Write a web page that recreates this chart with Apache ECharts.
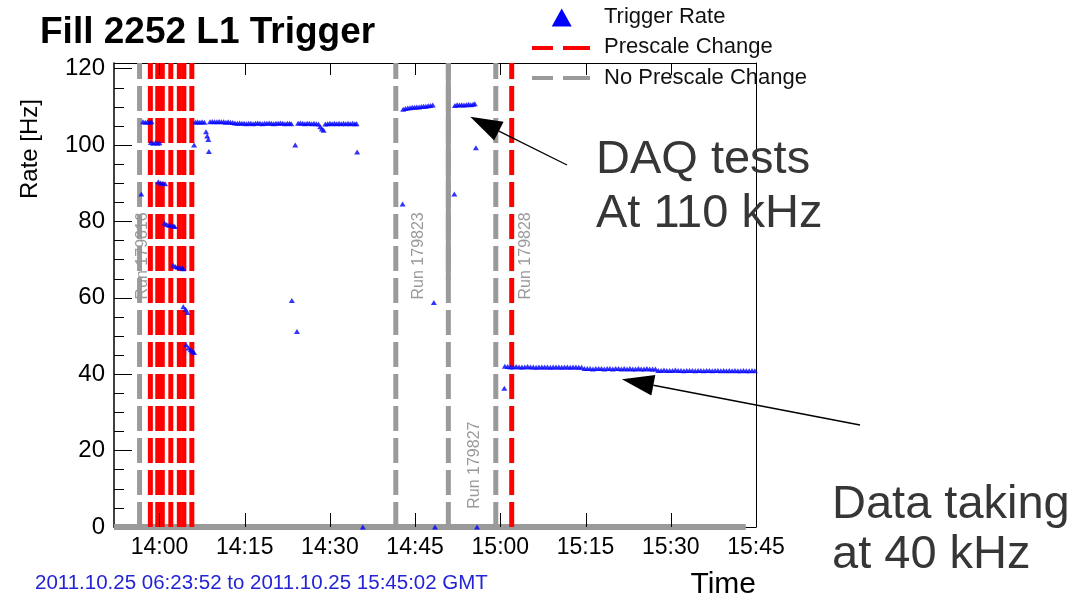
<!DOCTYPE html>
<html>
<head>
<meta charset="utf-8">
<title>Fill 2252 L1 Trigger</title>
<script src="https://cdn.jsdelivr.net/npm/echarts@6/dist/echarts.min.js"></script>
<style>
  html, body { margin: 0; padding: 0; background: #fff; }
  #chart { width: 1079px; height: 599px; }
</style>
</head>
<body>
<div id="chart"></div>
<script>
// Times are minutes after midnight, rates in Hz (x10^3).
const timeTicks = [840, 855, 870, 885, 900, 915, 930, 945];
const rateTicks = [0, 20, 40, 60, 80, 100, 120];
const rateMinorTicks = [5, 10, 15, 25, 30, 35, 45, 50, 55, 65, 70, 75, 85, 90, 95, 105, 110, 115];

// Run boundaries where the prescale column changed / stayed the same
const prescaleChanges = [838.4, 839.7, 840.5, 842.0, 843.5, 844.3, 845.7, 902.0];
const noPrescaleChanges = [836.5, 881.6, 890.85, 899.2];
// The boundary at 14:50.9 is drawn solid above this rate
const solidBoundaryFrom = 64.7;
const runNames = ['Run 179816', 'Run 179823', 'Run 179827', 'Run 179828'];

// Trigger rate: first fill attempt, stepping down through the prescale changes
const rateRampDown = [
  [836.8, 87.2],
  [837.1, 106.1], [837.5, 106.0], [837.9, 106.1], [838.3, 106.0], [838.6, 106.1],
  [838.5, 100.7], [838.9, 100.5], [839.3, 100.7], [839.7, 100.5], [840.0, 100.6],
  [839.8, 90.4], [840.2, 90.1], [840.6, 90.0], [841.0, 89.9],
  [840.9, 79.6], [841.3, 79.2], [841.7, 79.0], [842.1, 79.1], [842.5, 78.8], [842.7, 78.7],
  [842.4, 68.6], [842.8, 68.2], [843.2, 68.0], [843.6, 67.9], [844.0, 67.8], [844.2, 67.6],
  [844.2, 57.7], [844.6, 57.0], [844.9, 56.2],
  [844.7, 47.7], [845.1, 46.9], [845.5, 46.4], [845.8, 46.0], [846.1, 45.7]
];

// Trigger rate: steady running around 106 Hz
const rateFirstRun = [
  [846.1, 100.0],
  [846.3, 106.0], [846.7, 106.1], [847.1, 106.0], [847.5, 106.1], [847.9, 106.0],
  [848.2, 103.5], [848.4, 102.4], [848.6, 101.5], [848.7, 98.3],
  [848.9, 106.1], [849.3, 106.2], [849.7, 106.1], [850.1, 106.1], [850.5, 106.2], [850.9, 106.1],
  [851.3, 106.1], [851.7, 106.0], [852.1, 106.1], [852.5, 106.0], [852.9, 105.9],
  [853.3, 105.8], [853.7, 105.7], [854.1, 105.8], [854.5, 105.7], [854.9, 105.7], [855.3, 105.6],
  [855.7, 105.7], [856.1, 105.7], [856.5, 105.6], [856.9, 105.7], [857.3, 105.8], [857.7, 105.7],
  [858.1, 105.6], [858.5, 105.7], [858.9, 105.7], [859.3, 105.8], [859.7, 105.7], [860.1, 105.6],
  [860.5, 105.7], [860.9, 105.7], [861.3, 105.8], [861.7, 105.7], [862.1, 105.6], [862.5, 105.7],
  [862.9, 105.7], [863.2, 105.6],
  [863.9, 100.0], [863.3, 59.3], [864.2, 51.2],
  [864.4, 105.7], [864.8, 105.8], [865.2, 105.7], [865.6, 105.6], [866.0, 105.7], [866.4, 105.7],
  [866.8, 105.6], [867.2, 105.7], [867.6, 105.6], [868.0, 105.5], [868.3, 104.8], [868.6, 104.2],
  [868.9, 103.9], [869.2, 105.5], [869.6, 105.6], [870.0, 105.7], [870.4, 105.6], [870.8, 105.7],
  [871.2, 105.6], [871.6, 105.7], [872.0, 105.6], [872.4, 105.7], [872.8, 105.6], [873.2, 105.7],
  [873.6, 105.6], [874.0, 105.7], [874.4, 105.6], [874.7, 105.6],
  [874.8, 98.2]
];

// Trigger rate: readings of zero between runs
const rateZero = [[875.8, 0], [888.5, 0], [895.9, 0]];

// Trigger rate: DAQ tests near 110 Hz
const rateDaqTests = [
  [882.8, 84.6],
  [882.9, 109.4], [883.3, 109.6], [883.7, 109.7], [884.1, 109.8], [884.5, 109.9], [884.9, 109.9],
  [885.3, 110.0], [885.7, 110.0], [886.1, 110.1], [886.5, 110.2], [886.9, 110.2], [887.3, 110.3],
  [887.7, 110.4], [888.1, 110.5],
  [888.3, 58.8],
  [891.9, 87.2],
  [892.0, 110.4], [892.4, 110.6], [892.8, 110.5], [893.2, 110.6], [893.6, 110.5], [894.0, 110.6],
  [894.4, 110.7], [894.8, 110.6], [895.2, 110.7], [895.5, 110.8],
  [895.7, 99.3],
  [900.7, 36.3]
];

// Trigger rate: data taking near 40 Hz
const physicsTimes = [
  900.8, 901.3, 901.8, 902.3, 902.8, 903.3, 903.8, 904.3, 904.8, 905.3, 905.8, 906.3, 906.8, 907.3,
  907.8, 908.3, 908.8, 909.3, 909.8, 910.3, 910.8, 911.3, 911.8, 912.3, 912.8, 913.3, 913.8, 914.3,
  914.8, 915.3, 915.8, 916.3, 916.8, 917.3, 917.8, 918.3, 918.8, 919.3, 919.8, 920.3, 920.8, 921.3,
  921.8, 922.3, 922.8, 923.3, 923.8, 924.3, 924.8, 925.3, 925.8, 926.3, 926.8, 927.3,
  927.8, 928.3, 928.8, 929.3, 929.8, 930.3, 930.8, 931.3, 931.8, 932.3, 932.8, 933.3, 933.8, 934.3,
  934.8, 935.3, 935.8, 936.3, 936.8, 937.3, 937.8, 938.3, 938.8, 939.3, 939.8, 940.3, 940.8, 941.3,
  941.8, 942.3, 942.8, 943.3, 943.8, 944.3, 944.8
];
const physicsRates = [
  42.1, 42.0, 41.9, 41.9, 42.0, 41.9, 41.9, 41.9, 42.0, 41.9, 41.9, 41.8, 41.9, 41.9,
  41.9, 41.9, 41.8, 41.9, 41.9, 41.9, 41.8, 41.9, 41.9, 41.8, 41.9, 41.9, 41.8, 41.8,
  41.5, 41.5, 41.5, 41.4, 41.5, 41.5, 41.5, 41.4, 41.5, 41.5, 41.4, 41.5, 41.5, 41.4,
  41.5, 41.4, 41.5, 41.4, 41.4, 41.5, 41.4, 41.4, 41.5, 41.4, 41.4, 41.4,
  41.0, 41.0, 41.1, 41.0, 41.0, 41.0, 41.1, 41.0, 41.0, 40.9, 41.0, 41.0, 41.0, 40.9,
  41.0, 41.0, 40.9, 41.0, 41.0, 40.9, 41.0, 41.0, 40.9, 41.0, 40.9, 41.0, 40.9, 41.0,
  40.9, 40.9, 41.0, 40.9, 40.9, 41.0, 40.9
];

// Rate trace sitting on the zero line across the fill
const zeroTrace = [[832, 0], [943.2, 0]];

const FONT = '"Liberation Sans", Arial, sans-serif';
const X_MIN = 832, X_MAX = 945, Y_MIN = 0, Y_MAX = 121.5;
const RED = '#ff0000', GREY = '#9a9a9a', BLUE = '#0000ff';

function hhmm(m) {
  const h = Math.floor(m / 60), mm = Math.round(m % 60);
  return h + ':' + (mm < 10 ? '0' : '') + mm;
}

const triggerRate = [].concat(
  rateRampDown, rateFirstRun, rateZero, rateDaqTests,
  physicsTimes.map((t, i) => [t, physicsRates[i]])
);

function boundarySeries(t, color, dashed, from) {
  return {
    type: 'line',
    silent: true,
    symbol: 'none',
    animation: false,
    z: 2,
    data: [[t, from], [t, Y_MAX]],
    lineStyle: { color: color, width: 5, type: dashed ? [25, 7] : 'solid' }
  };
}

const series = [];
series.push({
  type: 'line', silent: true, symbol: 'none', z: 1,
  data: zeroTrace, lineStyle: { color: GREY, width: 6 }
});
noPrescaleChanges.forEach(t => series.push(boundarySeries(t, GREY, true, Y_MIN)));
series.push(boundarySeries(noPrescaleChanges[2], GREY, false, solidBoundaryFrom));
prescaleChanges.forEach(t => series.push(boundarySeries(t, RED, true, Y_MIN)));
series.push({
  name: 'Trigger Rate',
  type: 'scatter',
  symbol: 'triangle',
  symbolSize: [6, 5],
  z: 5,
  itemStyle: { color: BLUE },
  data: triggerRate
});

const chart = echarts.init(document.getElementById('chart'), null, { renderer: 'canvas' });

const blackLine = { color: '#000', width: 1 };

chart.setOption({
  animation: false,
  backgroundColor: '#fff',
  title: {
    text: 'Fill 2252 L1 Trigger',
    left: 35, top: 9,
    textStyle: { fontFamily: FONT, fontSize: 37, fontWeight: 'bold', color: '#000' }
  },
  grid: {
    left: 114, top: 63, width: 642, height: 464,
    show: false
  },
  xAxis: [
    {
      type: 'value', min: X_MIN, max: X_MAX, position: 'bottom',
      axisLine: { show: true, lineStyle: blackLine },
      axisTick: { show: false },
      axisLabel: { customValues: timeTicks, formatter: v => hhmm(v), margin: 9,
                   fontFamily: FONT, fontSize: 23, color: '#000' },
      splitLine: { show: false }
    },
    {
      type: 'value', min: X_MIN, max: X_MAX, position: 'top',
      axisLine: { show: true, onZero: false, lineStyle: blackLine },
      axisTick: { show: false },
      axisLabel: { show: false },
      splitLine: { show: false }
    }
  ],
  yAxis: [
    {
      type: 'value', min: Y_MIN, max: Y_MAX, position: 'left',
      axisLine: { show: true, lineStyle: { color: '#000', width: 1.5 } },
      axisTick: { show: true, inside: true, length: 18, customValues: rateTicks, lineStyle: blackLine },
      axisLabel: { customValues: rateTicks, margin: 9,
                   fontFamily: FONT, fontSize: 24, color: '#000' },
      splitLine: { show: false }
    },
    {
      type: 'value', min: Y_MIN, max: Y_MAX, position: 'left', offset: 0,
      axisLine: { show: false },
      axisTick: { show: true, inside: true, length: 10, customValues: rateMinorTicks, lineStyle: blackLine },
      axisLabel: { show: false },
      splitLine: { show: false }
    },
    {
      type: 'value', min: Y_MIN, max: Y_MAX, position: 'right', offset: 0,
      axisLine: { show: true, onZero: false, lineStyle: blackLine },
      axisTick: { show: false },
      axisLabel: { show: false },
      splitLine: { show: false }
    }
  ],
  series: series
});

// Annotations placed relative to the plotted data
function px(t, v) { return chart.convertToPixel({ xAxisIndex: 0, yAxisIndex: 0 }, [t, v]); }

function textEl(str, x, y, size, color, opts) {
  return Object.assign({
    type: 'text', x: x, y: y, silent: true, z: 20,
    style: Object.assign({
      text: str, fill: color, fontFamily: FONT, fontSize: size,
      align: 'left', verticalAlign: 'middle'
    }, (opts && opts.style) || {})
  }, (opts && opts.el) || {});
}

function arrowEls(tail, tip) {
  const dx = tip[0] - tail[0], dy = tip[1] - tail[1];
  const len = Math.sqrt(dx * dx + dy * dy);
  const ux = dx / len, uy = dy / len;
  const headLen = 32, headHalf = 10.5;
  const bx = tip[0] - ux * headLen, by = tip[1] - uy * headLen;
  return [
    { type: 'line', silent: true, z: 20,
      shape: { x1: tail[0], y1: tail[1], x2: bx, y2: by },
      style: { stroke: '#000', lineWidth: 1.3 } },
    { type: 'polygon', silent: true, z: 20,
      shape: { points: [tip, [bx - uy * headHalf, by + ux * headHalf], [bx + uy * headHalf, by - ux * headHalf]] },
      style: { fill: '#000' } }
  ];
}

const graphics = [];

// Inward time ticks on the bottom and top frame edges
timeTicks.forEach(t => {
  const b = px(t, Y_MIN), top = px(t, Y_MAX);
  const x = Math.round(b[0]) + 0.5;
  graphics.push({ type: 'line', silent: true, z: 15,
    shape: { x1: x, y1: b[1], x2: x, y2: b[1] - 14 }, style: { stroke: '#000', lineWidth: 1 } });
  graphics.push({ type: 'line', silent: true, z: 15,
    shape: { x1: x, y1: top[1], x2: x, y2: top[1] + 12 }, style: { stroke: '#000', lineWidth: 1 } });
});

const runAnchors = [[837.1, 71], [885.7, 71], [895.4, 16.2], [904.5, 71]];
runNames.forEach((name, i) => {
  const p = px(runAnchors[i][0], runAnchors[i][1]);
  graphics.push(textEl(name, p[0], p[1], 16, '#999999', {
    style: { align: 'center' }, el: { rotation: Math.PI / 2 }
  }));
});

// Legend
graphics.push({ type: 'polygon', silent: true, z: 20,
  shape: { points: [[561.7, 8.5], [551.7, 26.5], [571.7, 26.5]] }, style: { fill: BLUE } });
graphics.push({ type: 'line', silent: true, z: 20, shape: { x1: 532, y1: 48, x2: 553, y2: 48 }, style: { stroke: RED, lineWidth: 4 } });
graphics.push({ type: 'line', silent: true, z: 20, shape: { x1: 563, y1: 48, x2: 590, y2: 48 }, style: { stroke: RED, lineWidth: 4 } });
graphics.push({ type: 'line', silent: true, z: 20, shape: { x1: 532, y1: 78, x2: 553, y2: 78 }, style: { stroke: GREY, lineWidth: 4 } });
graphics.push({ type: 'line', silent: true, z: 20, shape: { x1: 563, y1: 78, x2: 590, y2: 78 }, style: { stroke: GREY, lineWidth: 4 } });
graphics.push(textEl('Trigger Rate', 604, 17, 22, '#111'));
graphics.push(textEl('Prescale Change', 604, 47, 22, '#111'));
graphics.push(textEl('No Prescale Change', 604, 78, 22, '#111'));

// Axis titles and footer
graphics.push(textEl('Rate [Hz]', 30, 149, 24, '#000', { style: { align: 'center' }, el: { rotation: Math.PI / 2 } }));
graphics.push(textEl('Time', 756, 585, 30, '#000', { style: { align: 'right' } }));
graphics.push(textEl('2011.10.25 06:23:52 to 2011.10.25 15:45:02 GMT', 35, 583, 20.5, '#2323d8'));

// Callouts
graphics.push(textEl('DAQ tests', 596, 160, 47, '#363636'));
graphics.push(textEl('At 110 kHz', 596, 214, 47, '#363636'));
graphics.push(textEl('Data taking', 832, 505, 47, '#363636'));
graphics.push(textEl('at 40 kHz', 832, 555, 47, '#363636'));
arrowEls([567, 165], px(894.7, 107.4)).forEach(e => graphics.push(e));
arrowEls([860, 425], px(921.4, 38.7)).forEach(e => graphics.push(e));

chart.setOption({ graphic: graphics });
</script>
</body>
</html>
